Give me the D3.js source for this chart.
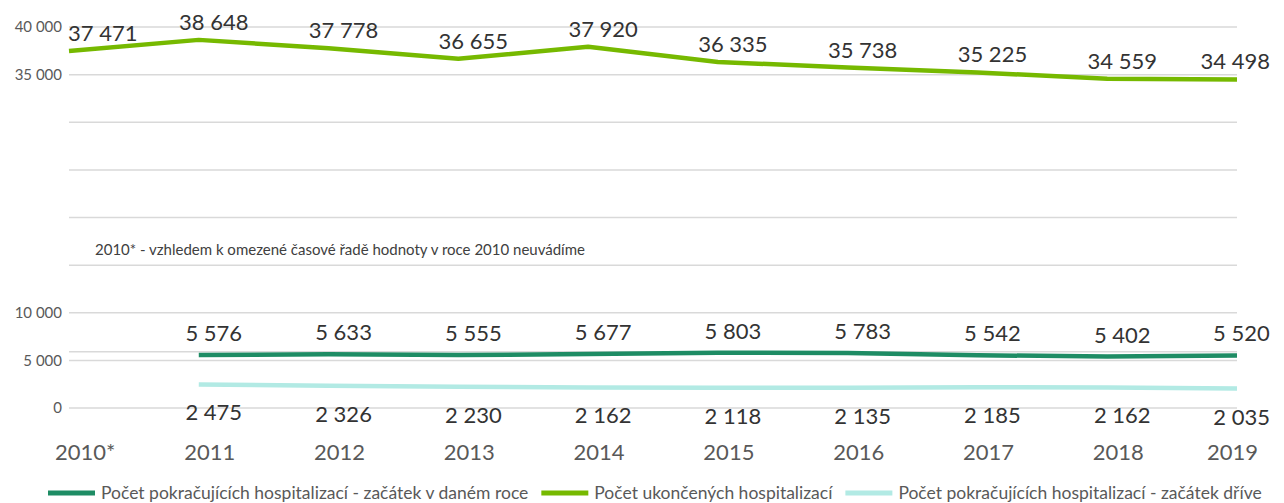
<!DOCTYPE html>
<html>
<head>
<meta charset="utf-8">
<script src="https://cdn.jsdelivr.net/npm/d3@7"></script>
<style>
  body { margin: 0; background: #fff; }
  svg { display: block; font-family: Lato, "Open Sans", sans-serif; }
</style>
</head>
<body>
<script>
"use strict";

const years = ["2010*", "2011", "2012", "2013", "2014", "2015", "2016", "2017", "2018", "2019"];
const ukoncene = [37471, 38648, 37778, 36655, 37920, 36335, 35738, 35225, 34559, 34498];
const zacatekVRoce = [null, 5576, 5633, 5555, 5677, 5803, 5783, 5542, 5402, 5520];
const zacatekDrive = [null, 2475, 2326, 2230, 2162, 2118, 2135, 2185, 2162, 2035];
const gridTicks = [0, 5000, 10000, 15000, 20000, 25000, 30000, 35000, 40000];
const shownTicks = [0, 5000, 10000, 35000, 40000];
const extraLine = [5900];
const note = "2010* - vzhledem k omezené časové řadě hodnoty v roce 2010 neuvádíme";
const legendNames = [
    "Počet pokračujících hospitalizací - začátek v daném roce",
    "Počet ukončených hospitalizací",
    "Počet pokračujících hospitalizací - začátek dříve"
];

let width = 1284, height = 503;
let svg = d3.select("body").append("svg").attr("width", width).attr("height", height);

let x = d3.scalePoint().domain(years).range([69, 1237]);
let y = d3.scaleLinear().domain([0, 40000]).range([408, 27]);

let fmt = d3.formatLocale({ decimal: ",", thousands: " ", grouping: [3], currency: ["", ""] }).format(",d");

// gridlines
svg.append("g")
    .selectAll("line")
    .data(gridTicks.concat(extraLine))
    .enter()
    .append("line")
    .attr("x1", 69).attr("x2", 1237)
    .attr("y1", d => y(d)).attr("y2", d => y(d))
    .attr("stroke", "#d9d9d9")
    .attr("stroke-width", 1.5);

// y labels (only some are shown)
svg.append("g")
    .selectAll("text")
    .data(shownTicks)
    .enter()
    .append("text")
    .attr("x", 62)
    .attr("y", d => y(d))
    .attr("dy", "0.35em")
    .attr("text-anchor", "end")
    .attr("font-size", 15)
    .attr("fill", "#595959")
    .text(d => fmt(d));

// note
svg.append("text")
    .attr("x", 95).attr("y", 255)
    .attr("font-size", 15)
    .attr("fill", "#404040")
    .text(note);

let series = [
    { vals: zacatekVRoce, color: "#1e8c64", dy: -14 },
    { vals: ukoncene, color: "#76b900", dy: -10 },
    { vals: zacatekDrive, color: "#b2eae4", dy: 36 }
];

let line = d3.line()
    .defined(d => d.v != null)
    .x(d => x(d.k))
    .y(d => y(d.v));

series.forEach(s => {
    let pts = years.map((k, i) => ({ k: k, v: s.vals[i] }));
    svg.append("path")
        .datum(pts)
        .attr("d", line)
        .attr("fill", "none")
        .attr("stroke", s.color)
        .attr("stroke-width", 4.5)
        .attr("stroke-linejoin", "round");

    svg.append("g")
        .selectAll("text")
        .data(pts.filter(d => d.v != null))
        .enter()
        .append("text")
        .attr("x", d => x(d.k) + 15)
        .attr("y", d => y(d.v) + s.dy)
        .attr("text-anchor", "middle")
        .attr("font-size", 22)
        .attr("fill", "#333333")
        .text(d => fmt(d.v))
        .each(function () {
            // keep labels inside the chart
            let b = this.getBBox();
            let el = d3.select(this);
            if (b.x < 68) el.attr("x", +el.attr("x") + (68 - b.x));
            if (b.x + b.width > 1270) el.attr("x", +el.attr("x") - (b.x + b.width - 1270));
        });
});

// x labels
svg.append("g")
    .selectAll("text")
    .data(years)
    .enter()
    .append("text")
    .attr("x", d => x(d) + 11)
    .attr("y", 460)
    .attr("text-anchor", "middle")
    .attr("font-size", 22)
    .attr("fill", "#595959")
    .text(d => d)
    .each(function () {
        let b = this.getBBox();
        let el = d3.select(this);
        if (b.x < 55) el.attr("x", +el.attr("x") + (55 - b.x));
        if (b.x + b.width > 1258) el.attr("x", +el.attr("x") - (b.x + b.width - 1258));
    });

// legend
let legendColors = ["#1e8c64", "#76b900", "#b2eae4"];
let lx = 48;
let legend = svg.append("g");
legendNames.forEach((n, i) => {
    legend.append("line")
        .attr("x1", lx).attr("x2", lx + 47)
        .attr("y1", 493).attr("y2", 493)
        .attr("stroke", legendColors[i])
        .attr("stroke-width", 5);
    let t = legend.append("text")
        .attr("x", lx + 53).attr("y", 499)
        .attr("font-size", 17.5)
        .attr("fill", "#595959")
        .text(n);
    lx += 53 + t.node().getComputedTextLength() + 13;
});
</script>
</body>
</html>
